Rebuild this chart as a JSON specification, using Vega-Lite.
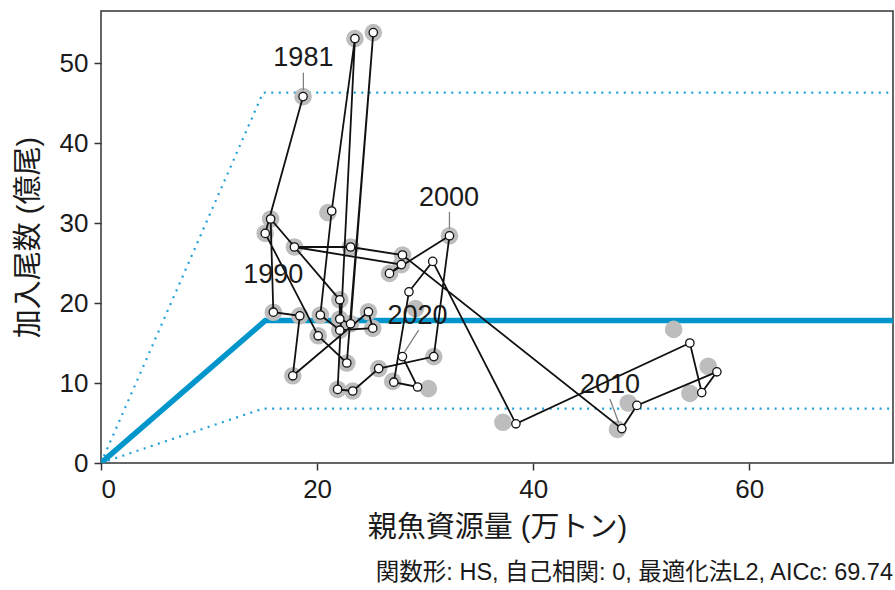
{
  "$schema": "https://vega.github.io/schema/vega-lite/v6.json",
  "width": 792,
  "height": 452,
  "autosize": "none",
  "padding": {"left": 101, "top": 11, "right": 2, "bottom": 127},
  "background": "white",
  "config": {
    "font": "Liberation Sans, Noto Sans CJK JP",
    "view": {"stroke": "#333333", "strokeWidth": 1.5},
    "axis": {
      "grid": false,
      "domain": false,
      "tickColor": "#333333",
      "tickSize": 7,
      "tickWidth": 1.5,
      "labelFontSize": 26,
      "labelColor": "#1a1a1a",
      "labelFont": "Liberation Sans",
      "titleFontSize": 29,
      "titleFontWeight": "normal",
      "titleColor": "#1a1a1a",
      "titleFont": "Liberation Sans, Noto Sans CJK JP"
    }
  },
  "title": {
    "text": "関数形: HS, 自己相関: 0, 最適化法L2, AICc: 69.74",
    "orient": "bottom",
    "anchor": "end",
    "fontSize": 23.5,
    "fontWeight": "normal",
    "font": "Liberation Sans, Noto Sans CJK JP",
    "color": "#1a1a1a",
    "offset": 19
  },
  "datasets": {
    "fit": [
      {"band": "upper", "ssb": 0, "rec": 0},
      {"band": "upper", "ssb": 15.0, "rec": 46.3},
      {"band": "upper", "ssb": 73.3, "rec": 46.3},
      {"band": "lower", "ssb": 0, "rec": 0},
      {"band": "lower", "ssb": 15.0, "rec": 6.8},
      {"band": "lower", "ssb": 73.3, "rec": 6.8}
    ],
    "mid": [
      {"ssb": 0, "rec": 0},
      {"ssb": 15.2, "rec": 17.8},
      {"ssb": 73.3, "rec": 17.8}
    ],
    "prev": [
      {"ssb": 18.7, "rec": 45.8}, {"ssb": 15.2, "rec": 28.7}, {"ssb": 20.1, "rec": 15.9},
      {"ssb": 22.75, "rec": 12.5}, {"ssb": 25.2, "rec": 53.8}, {"ssb": 23.1, "rec": 17.4},
      {"ssb": 22.1, "rec": 18.0}, {"ssb": 22.1, "rec": 20.4}, {"ssb": 15.7, "rec": 30.5},
      {"ssb": 15.95, "rec": 18.85}, {"ssb": 18.4, "rec": 18.4}, {"ssb": 17.75, "rec": 10.9},
      {"ssb": 24.75, "rec": 18.9}, {"ssb": 25.15, "rec": 16.85}, {"ssb": 22.1, "rec": 16.6},
      {"ssb": 20.3, "rec": 18.5}, {"ssb": 21.0, "rec": 31.3}, {"ssb": 23.5, "rec": 53.05},
      {"ssb": 21.9, "rec": 9.2}, {"ssb": 23.3, "rec": 9.0}, {"ssb": 25.7, "rec": 11.8},
      {"ssb": 30.8, "rec": 13.3}, {"ssb": 32.25, "rec": 28.4}, {"ssb": 26.7, "rec": 23.7},
      {"ssb": 27.8, "rec": 24.8}, {"ssb": 17.9, "rec": 27.0}, {"ssb": 23.1, "rec": 27.0},
      {"ssb": 27.9, "rec": 26.0}, {"ssb": 47.8, "rec": 4.2}, {"ssb": 48.8, "rec": 7.5},
      {"ssb": 56.2, "rec": 12.1}, {"ssb": 54.5, "rec": 8.7}, {"ssb": 53.0, "rec": 16.7},
      {"ssb": 37.2, "rec": 5.1}, {"ssb": 29.1, "rec": 19.3}, {"ssb": 27.0, "rec": 10.2},
      {"ssb": 30.3, "rec": 9.3}
    ],
    "obs": [
      {"order": 1, "ssb": 18.7, "rec": 45.8},
      {"order": 2, "ssb": 15.2, "rec": 28.7},
      {"order": 3, "ssb": 20.1, "rec": 15.9},
      {"order": 4, "ssb": 22.75, "rec": 12.5},
      {"order": 5, "ssb": 25.2, "rec": 53.8},
      {"order": 6, "ssb": 23.1, "rec": 17.4},
      {"order": 7, "ssb": 22.1, "rec": 18.0},
      {"order": 8, "ssb": 22.1, "rec": 20.4},
      {"order": 9, "ssb": 15.7, "rec": 30.5},
      {"order": 10, "ssb": 15.95, "rec": 18.85},
      {"order": 11, "ssb": 18.4, "rec": 18.4},
      {"order": 12, "ssb": 17.75, "rec": 10.9},
      {"order": 13, "ssb": 24.75, "rec": 18.9},
      {"order": 14, "ssb": 25.15, "rec": 16.85},
      {"order": 15, "ssb": 22.1, "rec": 16.6},
      {"order": 16, "ssb": 20.3, "rec": 18.5},
      {"order": 17, "ssb": 21.35, "rec": 31.5},
      {"order": 18, "ssb": 23.5, "rec": 53.05},
      {"order": 19, "ssb": 21.9, "rec": 9.2},
      {"order": 20, "ssb": 23.3, "rec": 9.0},
      {"order": 21, "ssb": 25.7, "rec": 11.8},
      {"order": 22, "ssb": 30.8, "rec": 13.3},
      {"order": 23, "ssb": 32.25, "rec": 28.4},
      {"order": 24, "ssb": 26.7, "rec": 23.7},
      {"order": 25, "ssb": 27.8, "rec": 24.8},
      {"order": 26, "ssb": 17.9, "rec": 27.0},
      {"order": 27, "ssb": 23.1, "rec": 27.0},
      {"order": 28, "ssb": 27.9, "rec": 26.0},
      {"order": 29, "ssb": 48.2, "rec": 4.3},
      {"order": 30, "ssb": 49.6, "rec": 7.2},
      {"order": 31, "ssb": 57.0, "rec": 11.4},
      {"order": 32, "ssb": 55.6, "rec": 8.8},
      {"order": 33, "ssb": 54.5, "rec": 15.0},
      {"order": 34, "ssb": 38.4, "rec": 4.9},
      {"order": 35, "ssb": 30.7, "rec": 25.2},
      {"order": 36, "ssb": 28.5, "rec": 21.4},
      {"order": 37, "ssb": 27.1, "rec": 10.1},
      {"order": 38, "ssb": 29.3, "rec": 9.5},
      {"order": 39, "ssb": 27.9, "rec": 13.3}
    ],
    "labels": [
      {"text": "1981", "ssb": 18.73, "rec": 50.6},
      {"text": "1990", "ssb": 15.95, "rec": 23.5},
      {"text": "2000", "ssb": 32.2, "rec": 33.1},
      {"text": "2010", "ssb": 47.1, "rec": 9.8},
      {"text": "2020", "ssb": 29.3, "rec": 18.4}
    ],
    "pointers": [
      {"ssb": 18.73, "rec": 48.8, "ssb2": 18.73, "rec2": 46.6},
      {"ssb": 32.25, "rec": 31.4, "ssb2": 32.25, "rec2": 29.3},
      {"ssb": 47.1, "rec": 8.0, "ssb2": 47.9, "rec2": 5.1},
      {"ssb": 29.4, "rec": 16.6, "ssb2": 28.1, "rec2": 13.9}
    ]
  },
  "encoding": {
    "x": {
      "field": "ssb", "type": "quantitative",
      "scale": {"domain": [0, 73.3], "nice": false, "zero": false},
      "axis": {"values": [0, 20, 40, 60], "title": "親魚資源量 (万トン)", "labelPadding": 6, "titlePadding": 11}
    },
    "y": {
      "field": "rec", "type": "quantitative",
      "scale": {"domain": [0, 56.5], "nice": false, "zero": false},
      "axis": {"values": [0, 10, 20, 30, 40, 50], "title": "加入尾数 (億尾)", "labelPadding": 6, "titlePadding": 16}
    }
  },
  "layer": [
    {
      "data": {"name": "fit"},
      "mark": {"type": "line", "color": "#1fa0d8", "strokeWidth": 2.2, "strokeDash": [2, 5.5], "clip": true},
      "encoding": {"detail": {"field": "band"}}
    },
    {
      "data": {"name": "mid"},
      "mark": {"type": "line", "color": "#0096cc", "strokeWidth": 5.5, "clip": true},
      "encoding": {}
    },
    {
      "data": {"name": "prev"},
      "mark": {"type": "circle", "color": "#bdbdbd", "opacity": 1, "size": 310}
    },
    {
      "data": {"name": "obs"},
      "mark": {"type": "line", "color": "#111111", "strokeWidth": 1.8},
      "encoding": {"order": {"field": "order", "type": "quantitative"}}
    },
    {
      "data": {"name": "obs"},
      "mark": {"type": "point", "shape": "circle", "filled": true, "fill": "white", "stroke": "#111111", "strokeWidth": 1.3, "opacity": 1, "size": 70}
    },
    {
      "data": {"name": "pointers"},
      "mark": {"type": "rule", "color": "#808080", "strokeWidth": 1.3},
      "encoding": {
        "x2": {"field": "ssb2"},
        "y2": {"field": "rec2"}
      }
    },
    {
      "data": {"name": "labels"},
      "mark": {"type": "text", "fontSize": 27, "font": "Liberation Sans", "color": "#1a1a1a", "align": "center", "baseline": "middle"},
      "encoding": {"text": {"field": "text"}}
    }
  ]
}
